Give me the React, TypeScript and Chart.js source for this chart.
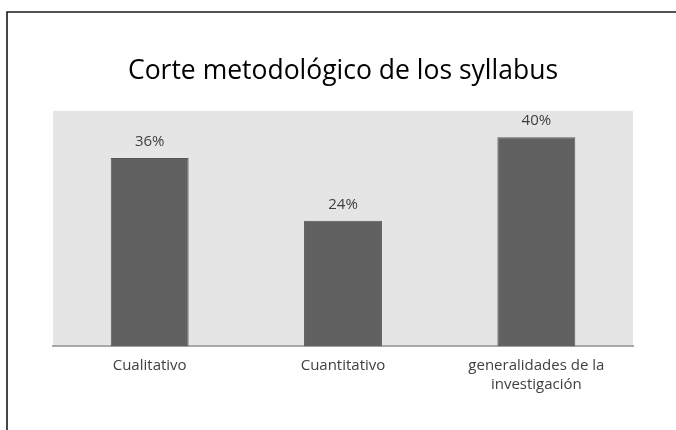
import React, { useEffect, useRef } from "react";
import { Chart, registerables } from "chart.js";

Chart.register(...registerables);

const TITLE = "Corte metodológico de los syllabus";
const categories: (string | string[])[] = [
  "Cualitativo",
  "Cuantitativo",
  ["generalidades de la", "investigación"],
];
const values = [36, 24, 40];
const valueLabels = ["36%", "24%", "40%"];
const yMax = 45;

const FONT = "'Open Sans', 'Noto Sans', sans-serif";

const framePlugin = {
  id: "frame",
  beforeDraw(chart: any) {
    const { ctx, chartArea, width, height } = chart;
    ctx.save();
    ctx.fillStyle = "#ffffff";
    ctx.fillRect(0, 0, width, height);
    // plot background
    ctx.fillStyle = "#e5e5e5";
    ctx.fillRect(chartArea.left, chartArea.top, chartArea.right - chartArea.left, chartArea.bottom - chartArea.top);
    // outer frame (cropped)
    ctx.strokeStyle = "#1a1a1a";
    ctx.lineWidth = 1.6;
    ctx.beginPath();
    ctx.moveTo(7, height);
    ctx.lineTo(7, 12);
    ctx.lineTo(width, 12);
    ctx.stroke();
    ctx.restore();
  },
};

const valueLabelPlugin = {
  id: "valueLabels",
  afterDatasetsDraw(chart: any) {
    const { ctx } = chart;
    const meta = chart.getDatasetMeta(0);
    ctx.save();
    ctx.font = `15px ${FONT}`;
    ctx.fillStyle = "#404040";
    ctx.textAlign = "center";
    ctx.textBaseline = "middle";
    meta.data.forEach((bar: any, i: number) => {
      ctx.fillText(valueLabels[i], bar.x, bar.y - 16.5);
    });
    ctx.restore();
  },
};

export default function App() {
  const ref = useRef<HTMLCanvasElement | null>(null);
  useEffect(() => {
    if (!ref.current) return;
    const chart = new Chart(ref.current, {
      type: "bar",
      data: {
        labels: categories,
        datasets: [
          {
            data: values,
            backgroundColor: "#616161",
            borderColor: "#575757",
            borderWidth: 1,
            barPercentage: 0.403,
            categoryPercentage: 1,
          },
        ],
      },
      options: {
        responsive: false,
        animation: false,
        devicePixelRatio: 1,
        layout: { padding: { left: 53, right: 43, top: 0, bottom: 25.5 } },
        plugins: {
          legend: { display: false },
          tooltip: { enabled: false },
          title: {
            display: true,
            text: TITLE,
            color: "#000000",
            font: { family: FONT, size: 26.5, weight: "normal", lineHeight: 1.2 },
            padding: { top: 56, bottom: 23.2 },
          },
        },
        scales: {
          x: {
            grid: { display: false, drawTicks: false },
            border: { display: true, color: "#a8a8a8", width: 2 },
            ticks: {
              color: "#404040",
              font: { family: FONT, size: 15, lineHeight: 1.27 },
              padding: 10,
              maxRotation: 0,
              autoSkip: false,
            },
          },
          y: {
            display: false,
            min: 0,
            max: yMax,
          },
        },
      },
      plugins: [framePlugin, valueLabelPlugin],
    });
    return () => chart.destroy();
  }, []);
  return (
    <div style={{ position: "fixed", left: 0, top: 0, width: 676, height: 430 }}>
      <canvas ref={ref} width={676} height={430} style={{ display: "block" }} />
    </div>
  );
}
